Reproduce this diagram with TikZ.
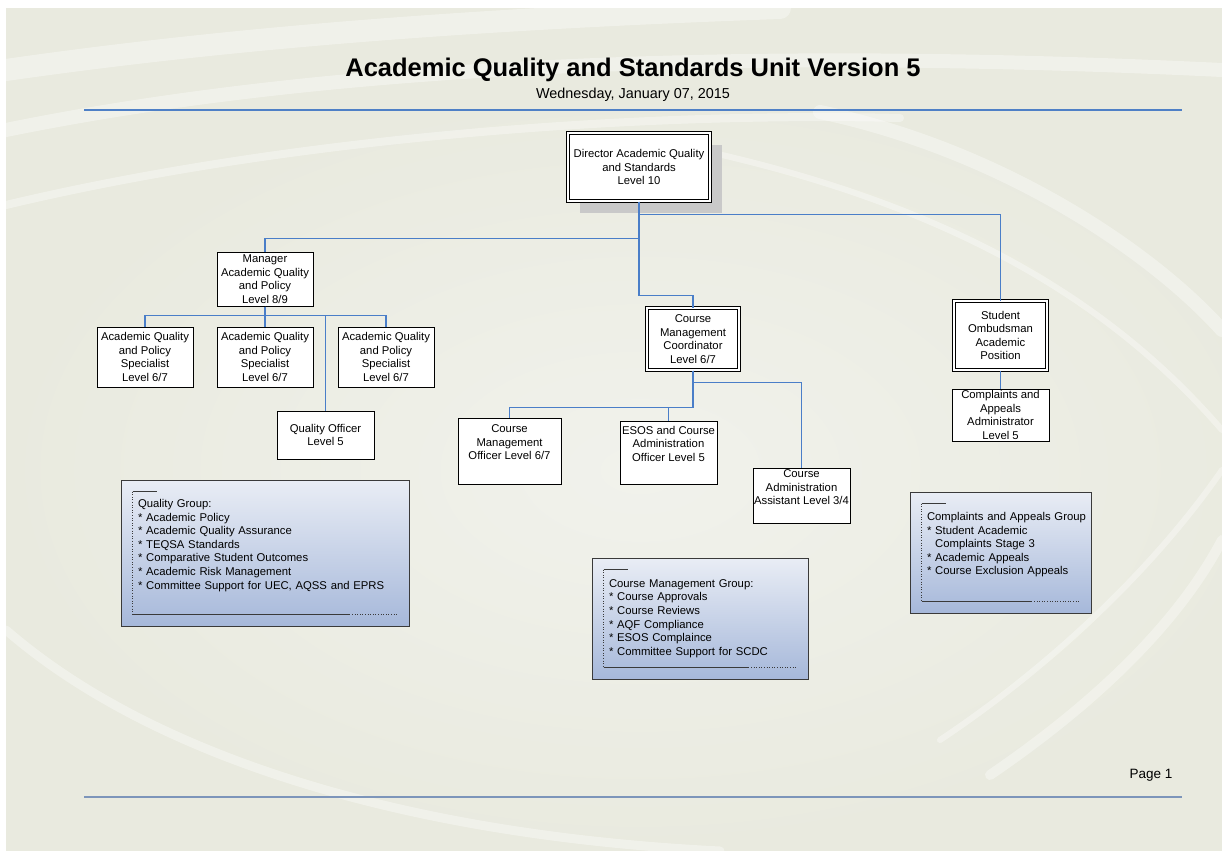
\documentclass[tikz,border=0pt]{standalone}
\usepackage{fontspec}
\setmainfont{Liberation Sans}
\usetikzlibrary{calc,shadows}
\definecolor{Paper}{HTML}{E9EADF}
\definecolor{Glow}{HTML}{F1F2EC}
\definecolor{Link}{HTML}{4A7EC8}
\definecolor{Rule}{HTML}{4F80C6}
\definecolor{RuleLow}{HTML}{7D95BA}
\definecolor{Shade}{HTML}{C9C9C9}
\definecolor{GroupTop}{HTML}{E9EDF5}
\definecolor{GroupBot}{HTML}{A6B8DA}
\definecolor{Edge}{HTML}{3A3A3A}
\newcommand\boxfont{\fontsize{11.3}{13.6}\selectfont}
\tikzset{
  post/.style={draw=black,fill=white,line width=1pt,inner sep=1pt,align=center,
    font=\boxfont},
  headpost/.style={post,double=white,double distance=2.2pt,line width=1pt},
  group/.style={draw=Edge,line width=.9pt,top color=GroupTop,bottom color=GroupBot,
    inner xsep=17pt,inner ysep=1pt,align=left,font=\boxfont},
  link/.style={draw=Link,line width=1.5pt},
  tick/.style={draw=Edge,line width=.6pt},
  swoosh/.style={draw=white,opacity=.35,line cap=round}
}

\begin{document}
\begin{tikzpicture}[x=1pt,y=-1pt]
  \useasboundingbox (0,0) rectangle (1222,851);
  % paper and background sweeps
  \fill[white] (0,0) rectangle (1222,851);
  \fill[Paper] (6,8) rectangle (1222,851);
  \begin{scope}
    \clip (6,8) rectangle (1222,851);
    \shade[inner color=Glow,outer color=Paper] (640,470) ellipse [x radius=640, y radius=380];
    \draw[swoosh,line width=22] (6,70) .. controls (250,35) and (500,18) .. (780,8);
    \draw[swoosh,line width=14] (6,130) .. controls (300,70) and (700,45) .. (1222,70);
    \draw[swoosh,line width=8] (6,205) .. controls (300,135) and (650,112) .. (900,118);
    \draw[swoosh,line width=9] (6,630) .. controls (150,755) and (400,835) .. (720,851);
    \draw[swoosh,line width=10] (990,775) .. controls (1100,700) and (1180,620) .. (1222,540);
    \draw[swoosh,line width=6] (940,740) .. controls (1060,660) and (1160,560) .. (1222,470);
    \draw[swoosh,line width=14] (820,112) .. controls (1000,150) and (1150,250) .. (1222,330);
    \draw[swoosh,line width=6] (700,150) .. controls (950,205) and (1110,300) .. (1222,430);
  \end{scope}

  % heading
  \node[font=\fontsize{25.5}{30}\selectfont\bfseries] (title) at (633,70)
    {Academic Quality and Standards Unit Version 5};
  \node[font=\fontsize{14.4}{17}\selectfont] (date) at (633,95) {Wednesday, January 07, 2015};
  \draw[Rule,line width=1.2pt] (84,110) -- (1182,110);
  \node[font=\fontsize{13.5}{16}\selectfont,anchor=east] (page) at (1176,775) {Page 1};
  \draw[RuleLow,line width=1.3pt] (84,797) -- (1182,797);

  % positions
  \node[headpost,minimum width=142,minimum height=68,
    drop shadow={shadow xshift=12pt,shadow yshift=-12pt,fill=Shade,opacity=1}]
    (dir) at (639,167) {Director Academic Quality\\and Standards\\Level 10};
  \node[post,minimum width=96,minimum height=54] (mgr) at (265,279)
    {Manager\\Academic Quality\\and Policy\\Level 8/9};
  \node[post,minimum width=96,minimum height=60] (sp1) at (145,357)
    {Academic Quality\\and Policy\\Specialist\\Level 6/7};
  \node[post,minimum width=96,minimum height=60] (sp2) at (265,357)
    {Academic Quality\\and Policy\\Specialist\\Level 6/7};
  \node[post,minimum width=96,minimum height=60] (sp3) at (386,357)
    {Academic Quality\\and Policy\\Specialist\\Level 6/7};
  \node[post,minimum width=97,minimum height=48] (qo) at (325.5,435)
    {Quality Officer\\Level 5};
  \node[headpost,minimum width=92,minimum height=62] (cmc) at (693,339)
    {Course\\Management\\Coordinator\\Level 6/7};
  \node[post,minimum width=103,minimum height=66] (cmo) at (509.5,451)
    {Course\\Management\\Officer Level 6/7\\\strut};
  \node[post,minimum width=97,minimum height=63] (esos) at (668.5,452.5)
    {ESOS and Course\\Administration\\Officer Level 5\\\strut};
  \node[post,minimum width=97,minimum height=54] (asst) at (801.5,496)
    {Course\\Administration\\Assistant Level 3/4\\\strut};
  \node[headpost,minimum width=93,minimum height=69] (omb) at (1000.5,335.5)
    {Student\\Ombudsman\\Academic\\Position};
  \node[post,minimum width=97,minimum height=52] (caa) at (1000.5,415)
    {Complaints and\\Appeals\\Administrator\\Level 5};

  % reporting lines
  \draw[link] (dir.south) |- ($(mgr.north)+(0,-13)$) -- (mgr.north);
  \draw[link] (dir.south) -- ++(0,13) -| (omb.north);
  \draw[link] (dir.south) |- ($(cmc.north)+(0,-12)$) -- (cmc.north);
  \foreach \n in {sp1,sp2,sp3,qo}
    \draw[link] (mgr.south) -- ++(0,9) -| (\n.north);
  \draw[link] (cmc.south) -- ++(0,12) -| (asst.north);
  \draw[link] (cmc.south) |- ($(cmo.north)+(0,-10)$) -- (cmo.north);
  \draw[link] (cmc.south) |- ($(esos.north)+(0,-13)$) -- (esos.north);
  \draw[link] (omb) -- (caa);

  % group notes
  \node[group,minimum width=288,minimum height=146,text width=254] (qgroup) at (265,553)
    {Quality Group:\\{*} Academic Policy\\{*} Academic Quality Assurance\\{*} TEQSA Standards\\
     {*} Comparative Student Outcomes\\{*} Academic Risk Management\\
     {*} Committee Support for UEC, AQSS and EPRS\\\strut};
  \node[group,minimum width=216,minimum height=121,text width=182] (cgroup) at (700,618.5)
    {Course Management Group:\\{*} Course Approvals\\{*} Course Reviews\\{*} AQF Compliance\\
     {*} ESOS Complaince\\{*} Committee Support for SCDC};
  \node[group,minimum width=181,minimum height=121,text width=147] (agroup) at (1000.5,552.5)
    {\mbox{Complaints and Appeals Group}\\{*} Student Academic\\\phantom{* }Complaints Stage 3\\
     {*} Academic Appeals\\{*} Course Exclusion Appeals\\\strut};
  \foreach \g in {qgroup,cgroup,agroup} {
    \draw[tick] ($(\g.north west)+(12,12)$) coordinate (\g-a) -- ++(24,0);
    \draw[tick,dotted] (\g-a) -- ($(\g.south west)+(12,-12)$) coordinate (\g-b);
    \draw[tick] (\g-b) -- ($(\g.south east)+(-60,-12)$) coordinate (\g-c);
    \draw[tick,dotted] (\g-c) -- ($(\g.south east)+(-12,-12)$);
  }
\end{tikzpicture}
\end{document}
